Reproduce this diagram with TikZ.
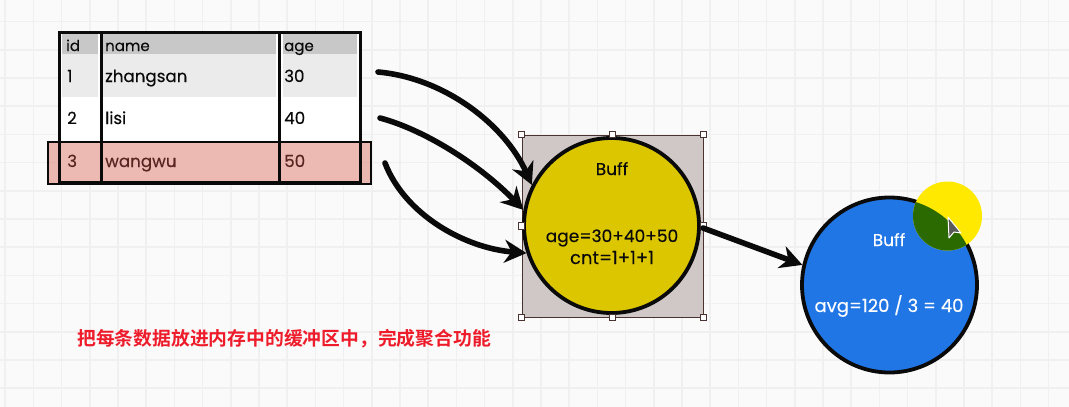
\documentclass[tikz,border=0pt]{standalone}
\usepackage{fontspec}
\setmainfont{Poppins}[FakeBold=0.25,AutoFakeBold=false]
\newfontfamily\cjk{Noto Sans CJK SC}[BoldFont=* Bold]
\usetikzlibrary{arrows.meta}
\definecolor{bgc}{HTML}{FAFAFA}
\definecolor{gridc}{HTML}{F0F0F0}
\definecolor{hdrc}{HTML}{C8C8C8}
\definecolor{rowc}{HTML}{EBEBEB}
\definecolor{pinkc}{HTML}{DC7468}
\definecolor{selc}{HTML}{CFC8C6}
\definecolor{selline}{HTML}{4A3230}
\definecolor{ylw}{HTML}{DCC600}
\definecolor{blu}{HTML}{2176E6}
\definecolor{spot}{HTML}{FFE900}
\definecolor{spotg}{HTML}{2A6A00}
\definecolor{redt}{HTML}{EE1C2B}
\definecolor{ink}{HTML}{0A0A0A}
\definecolor{dimink}{HTML}{5A2420}
\tikzset{
  x=1pt,y=-1pt,
  gridline/.style={gridc,line width=1.6pt},
  tabline/.style={ink,line width=3pt},
  cell/.style={anchor=base west,inner sep=0pt,font=\fontsize{16.7}{17}\selectfont,text=ink},
  hcell/.style={cell,font=\fontsize{15}{15}\selectfont},
  pcell/.style={cell,text=dimink},
  lbl/.style={anchor=base,inner sep=0pt,font=\fontsize{17}{17}\selectfont,text=ink},
  wlbl/.style={lbl,text=white},
  ring/.style={circle,draw=ink,line width=3.8pt,inner sep=0pt,minimum size=175pt},
  flow/.style={ink,line width=5.6pt,line cap=round,-{Stealth[length=22pt,width=23pt,inset=7pt]}},
  handle/.style={draw=selline,fill=white,line width=1pt,minimum size=6.5pt,inner sep=0pt,rectangle},
}
\begin{document}
\begin{tikzpicture}
\useasboundingbox (0,0) rectangle (1069,407);
\fill[bgc] (0,0) rectangle (1069,407);
\foreach \i in {0,...,37} \draw[gridline] ({5.2+28.2*\i},0) -- ({5.2+28.2*\i},407);
\foreach \j in {0,...,14} \draw[gridline] (0,{21.6+28.2*\j}) -- (1069,{21.6+28.2*\j});

% table
\fill[white] (59,32) rectangle (360,183);
\foreach \a/\b in {62/98,103/276,283/357}{
  \fill[hdrc] (\a,33) rectangle (\b,54);
  \fill[rowc] (\a,54) rectangle (\b,97);
}
\fill[pinkc,opacity=.5] (48,142) rectangle (371,184);
\draw[tabline] (59,32) rectangle (360,182);
\draw[tabline] (101,32) -- (101,182);
\draw[tabline] (279,32) -- (279,182);
\draw[ink,line width=2.6pt] (48,142) rectangle (371,184);
\foreach \n/\t/\x/\y in {a/id/66/51,b/name/105/51,c/age/284/51}
  \node[hcell] (cell\n) at (\x,\y) {\t};
\foreach \n/\t/\x/\y in {d/1/67/82,e/zhangsan/105/82,f/30/284/82,
  g/2/67/124,h/lisi/105/124,i/40/284/124}
  \node[cell] (cell\n) at (\x,\y) {\t};
\foreach \n/\t/\x/\y in {j/3/67/167,k/wangwu/105/167,l/50/284/167}
  \node[pcell] (cell\n) at (\x,\y) {\t};

% selection box and yellow circle
\node[draw=selline,fill=selc,line width=1pt,minimum width=181pt,minimum height=182pt,inner sep=0pt,rectangle] (sel) at (612.5,226) {};
\node[ring,fill=ylw] (yc) at (611.5,225.5) {};
\foreach \an in {north west,north,north east,west,east,south west,south,south east}
  \node[handle] at (sel.\an) {};
\node[lbl] (buffa) at (612,175) {Buff};
\node[lbl] (agesum) at (612,242) {age=30+40+50};
\node[lbl,font=\fontsize{18}{18}\selectfont] (cntsum) at (612,264) {cnt=1+1+1};

% blue circle
\node[ring,fill=blu] (bc) at (889.5,285) {};
\begin{scope}
  \fill[spot] (947.5,216) circle (34.5);
  \clip (889.5,285) circle (87);
  \fill[spotg] (947.5,216) circle (34.5);
\end{scope}
\node[wlbl] (buffb) at (889,246) {Buff};
\node[wlbl,font=\fontsize{18}{18}\selectfont] (avg) at (889,312) {avg=120 / 3 = 40};
% pointer
\draw[white,fill=gray!70!black,line width=1pt,line join=round] (948,217) -- (949,238) -- (954,232) -- (961,233) -- cycle;

% arrows
\coordinate (s1) at (378,72);
\coordinate (s2) at (380,118);
\coordinate (s3) at (385,163);
\draw[flow] (s1) .. controls (445,78) and (505,125) .. (yc.153);
\draw[flow] (s2) .. controls (425,130) and (480,165) .. (yc.170);
\draw[flow] (s3) .. controls (405,215) and (465,248) .. (yc.198);
\coordinate (s4) at (703,228);
\draw[flow] (s4) -- (bc.167);

% caption
\node[anchor=west,inner sep=0pt,text=redt,font=\cjk\bfseries\fontsize{18.8}{18.8}\selectfont] (cap) at (77,339) {把每条数据放进内存中的缓冲区中，完成聚合功能};
\end{tikzpicture}
\end{document}
